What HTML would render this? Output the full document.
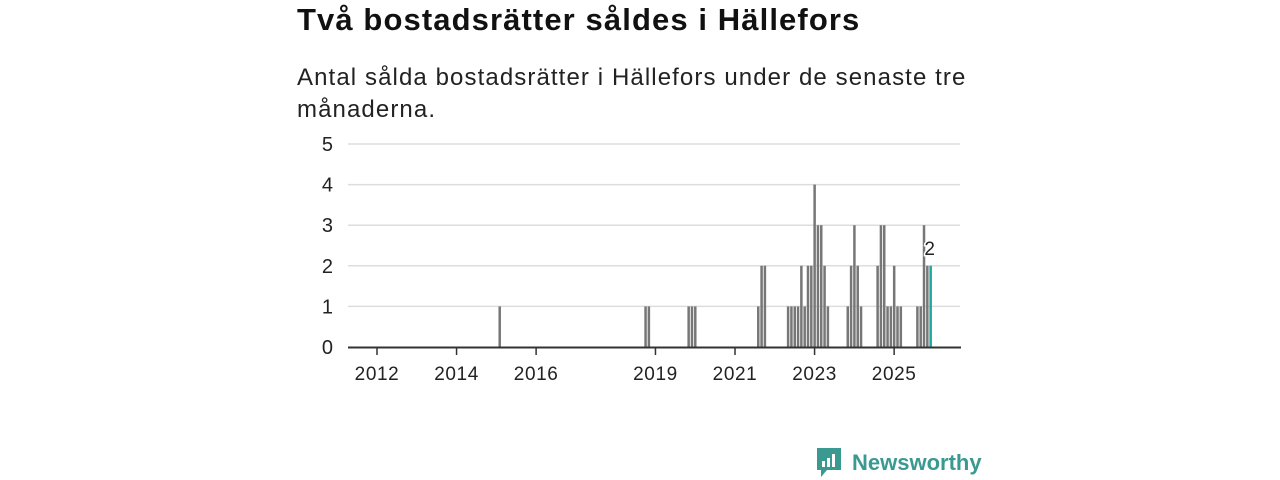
<!DOCTYPE html>
<html><head><meta charset="utf-8"><style>
body{margin:0;width:1280px;height:480px;background:#fff;font-family:"Liberation Sans","DejaVu Sans",sans-serif;overflow:hidden;position:relative}
h1{position:absolute;left:297px;top:2px;margin:0;font-size:31px;font-weight:bold;color:#111;letter-spacing:1.1px}
p.sub{position:absolute;left:297px;top:62px;margin:0;font-size:24px;line-height:32px;color:#222;width:690px;letter-spacing:1.1px}
</style></head><body>
<h1>Två bostadsrätter såldes i Hällefors</h1>
<p class="sub">Antal sålda bostadsrätter i Hällefors under de senaste tre månaderna.</p>
<svg id="chart" width="1280" height="480" style="position:absolute;left:0;top:0" font-family="Liberation Sans, DejaVu Sans, sans-serif"></svg>
<div style="position:absolute;left:815px;top:446px;display:flex;align-items:center">
<svg width="28" height="34"><path d="M2 2h24v22H12l-6 7v-7H2z" fill="#3a9a91"/><rect x="7" y="15" width="3" height="6" fill="#fff"/><rect x="12" y="12" width="3" height="9" fill="#fff"/><rect x="17" y="8" width="3" height="13" fill="#fff"/></svg>
<span style="font-size:22px;color:#3a9a91;margin-left:9px;font-weight:bold">Newsworthy</span>
</div>
<script>
// month index from Jan 2012
const months=[37,81,82,94,95,96,115,116,117,124,125,126,127,128,129,130,131,132,133,134,135,136,142,143,144,145,146,151,152,153,154,155,156,157,158,163,164,165,166,167];
const values=[1,1,1,1,1,1,1,2,2,1,1,1,1,2,1,2,2,4,3,3,2,1,1,2,3,2,1,2,3,3,1,1,2,1,1,1,1,3,2,2];
const yTicks=[0,1,2,3,4,5];
const xTickYears=[2012,2014,2016,2019,2021,2023,2025];
const NS="http://www.w3.org/2000/svg";
const svg=document.getElementById('chart');
const x=m=>377+m*3.315;
const y=v=>347-v*40.6;
function el(t,a){const e=document.createElementNS(NS,t);for(const k in a)e.setAttribute(k,a[k]);svg.appendChild(e);return e;}
yTicks.forEach(v=>{
 if(v>0){const g=el('line',{x1:348,x2:960,y1:y(v),y2:y(v),stroke:'#ddd','stroke-width':1.5});
 
 }
 const t=el('text',{x:333,y:y(v)+7,'text-anchor':'end','font-size':20,fill:'#222'});t.textContent=v;
 
 
});
months.forEach((m,i)=>{
 const last=i===months.length-1;
 const r=el('rect',{x:x(m)-1.2,y:y(values[i]),width:2.5,height:values[i]*40.6,fill:last?'#1aa89c':'#777'});
 
 
});
const li=months.length-1;
const lb=el('text',{x:x(months[li])-1,y:y(values[li])-11,'text-anchor':'middle','font-size':19,fill:'#222',stroke:'#fff','stroke-width':3,'paint-order':'stroke'});
lb.textContent=values[li];


const ax=el('line',{x1:348,x2:961,y1:347.5,y2:347.5,stroke:'#333','stroke-width':2});


xTickYears.forEach(yr=>{
 const px=x((yr-2012)*12);
 const tk=el('line',{x1:px,x2:px,y1:348,y2:355,stroke:'#333','stroke-width':1.5});
 
 
 const t=el('text',{x:px,y:380,'text-anchor':'middle','font-size':19,'letter-spacing':0.6,fill:'#222'});t.textContent=yr;
 
 
});
</script>
</body></html>
